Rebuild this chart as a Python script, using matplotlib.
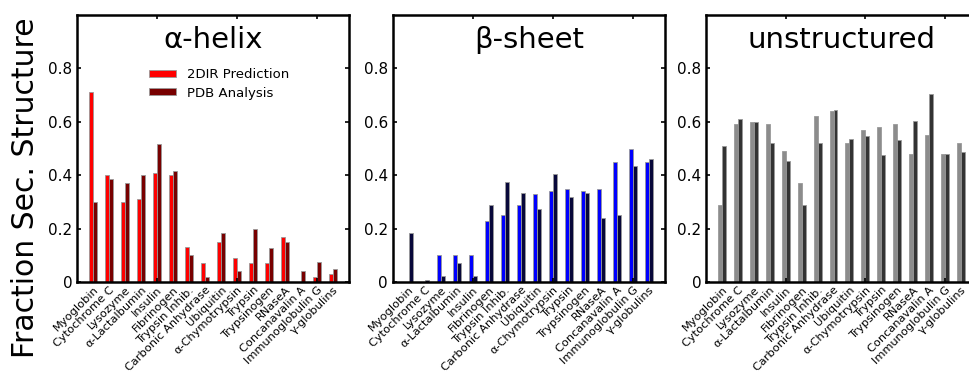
import numpy as np
import matplotlib
matplotlib.use("Agg")
import matplotlib.pyplot as plt

# Proteins along the x axis
proteins = ["Myoglobin", "Cytochrome C", "Lysozyme", "α-Lactalbumin", "Insulin",
            "Fibrinogen", "Trypsin Inhib.", "Carbonic Anhydrase", "Ubiquitin",
            "α-Chymotrypsin", "Trypsin", "Trypsinogen", "RNaseA",
            "Concanavalin A", "Immunoglobulin G", "γ-globulins"]

# Fractions of secondary structure: 2DIR prediction vs. PDB analysis
helix_2dir = [0.71, 0.40, 0.30, 0.31, 0.41, 0.40, 0.13, 0.07, 0.15, 0.09, 0.07, 0.07, 0.17, 0.00, 0.02, 0.03]
helix_pdb = [0.30, 0.385, 0.372, 0.40, 0.516, 0.414, 0.10, 0.02, 0.185, 0.043, 0.199, 0.127, 0.15, 0.04, 0.076, 0.048]

sheet_2dir = [0.00, 0.00, 0.10, 0.10, 0.10, 0.23, 0.25, 0.29, 0.33, 0.34, 0.35, 0.34, 0.35, 0.45, 0.50, 0.45]
sheet_pdb = [0.182, 0.006, 0.021, 0.07, 0.024, 0.288, 0.374, 0.333, 0.272, 0.403, 0.318, 0.333, 0.24, 0.252, 0.436, 0.46]

unstr_2dir = [0.29, 0.59, 0.60, 0.59, 0.49, 0.37, 0.62, 0.64, 0.52, 0.57, 0.58, 0.59, 0.48, 0.55, 0.48, 0.52]
unstr_pdb = [0.508, 0.61, 0.60, 0.522, 0.453, 0.287, 0.52, 0.643, 0.537, 0.547, 0.474, 0.532, 0.603, 0.704, 0.48, 0.487]

panels = [
    ("α-helix", helix_2dir, helix_pdb, "#ff0000", "#780000"),
    ("β-sheet", sheet_2dir, sheet_pdb, "#0000ff", "#08083a"),
    ("unstructured", unstr_2dir, unstr_pdb, "#8c8c8c", "#333333"),
]

fig = plt.figure(figsize=(9.7, 3.76), dpi=100)
lefts = [0.0794, 0.405, 0.728]
x = np.arange(1, len(proteins) + 1)
w = 0.25

for i, (title, pred, pdb, c1, c2) in enumerate(panels):
    ax = fig.add_axes([lefts[i], 0.25, 0.2805 if i < 2 else 0.279, 0.71])
    ax.bar(x - w / 2, pred, w, color=c1, edgecolor="0.6", linewidth=0.6, label="2DIR Prediction")
    ax.bar(x + w / 2, pdb, w, color=c2, edgecolor="0.6", linewidth=0.6, label="PDB Analysis")
    ax.set_xlim(0, 17)
    ax.set_ylim(0, 1)
    ax.set_yticks([0, 0.2, 0.4, 0.6, 0.8], ["0", "0.2", "0.4", "0.6", "0.8"])
    # tick marks at 5, 10, 15; protein names sit on minor ticks with no mark
    ax.xaxis.remove_overlapping_locs = False
    ax.set_xticks([5, 10, 15], [])
    ax.set_xticks(x, proteins, minor=True)
    ax.tick_params(which="major", direction="in", top=True, right=True,
                   length=3, width=1.2, labelsize=11)
    ax.tick_params(which="minor", length=0, pad=2)
    for lab in ax.get_xticklabels(minor=True):
        lab.set_rotation(45)
        lab.set_ha("right")
        lab.set_va("top")
        lab.set_rotation_mode("anchor")
        lab.set_fontsize(8.2)
    for s in ax.spines.values():
        s.set_linewidth(1.8)
    ax.text(0.5, 0.905, title, transform=ax.transAxes, ha="center", va="center", fontsize=21)
    if i == 0:
        ax.legend(loc="upper left", bbox_to_anchor=(0.22, 0.845), frameon=False,
                  fontsize=9.5, handlelength=2.1, handleheight=0.45, labelspacing=0.4)

fig.text(0.026, 0.5, "Fraction Sec. Structure", rotation=90, ha="center", va="center", fontsize=21.5)

fig.savefig("out.png", dpi=100)
